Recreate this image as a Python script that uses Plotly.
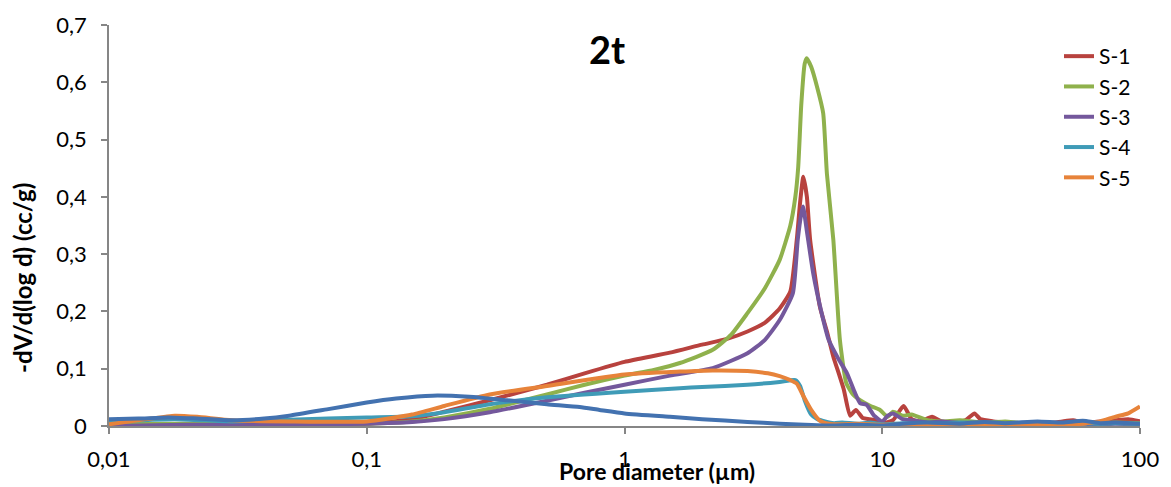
import plotly.graph_objects as go

# ---- data ----
s1_x = [0.01, 0.02, 0.05, 0.1, 0.15, 0.2, 0.3, 0.5, 0.7, 1, 1.5, 2, 2.5, 3, 3.5, 4, 4.4, 4.66, 4.8, 4.94,
        5.1, 5.25, 5.73, 6.1, 6.46, 6.8, 7.1, 7.5, 7.9, 8.4, 8.9, 9.5, 10, 11, 12.1, 13, 14, 15.6, 17, 19,
        21, 22.8, 24, 27, 30, 35, 40, 45, 50, 55, 60, 70, 80, 90, 100]
s1_y = [0.002, 0.003, 0.002, 0.004, 0.012, 0.025, 0.045, 0.072, 0.092, 0.112, 0.128, 0.142, 0.152, 0.165, 0.18,
        0.205, 0.235, 0.325, 0.39, 0.435, 0.40, 0.325, 0.208, 0.165, 0.121, 0.09, 0.063, 0.018, 0.028, 0.014,
        0.012, 0.01, 0.005, 0.01, 0.035, 0.012, 0.008, 0.016, 0.008, 0.006, 0.01, 0.022, 0.012, 0.008, 0.006,
        0.004, 0.006, 0.005, 0.008, 0.01, 0.006, 0.008, 0.01, 0.012, 0.008]

s2_x = [0.01, 0.02, 0.05, 0.1, 0.15, 0.2, 0.3, 0.5, 0.7, 1, 1.3, 1.64, 2.2, 2.6, 3, 3.5, 4, 4.4, 4.6, 4.72,
        4.85, 5.0, 5.09, 5.3, 5.6, 5.9, 6.1, 6.46, 6.85, 7.25, 7.7, 8.2, 9, 9.8, 10.5, 11, 12, 13, 15, 17,
        20, 25, 30, 35, 40, 50, 60, 70, 80, 100]
s2_y = [0.003, 0.004, 0.003, 0.004, 0.008, 0.015, 0.03, 0.055, 0.072, 0.088, 0.098, 0.11, 0.133, 0.16, 0.197,
        0.24, 0.29, 0.35, 0.40, 0.452, 0.56, 0.632, 0.642, 0.627, 0.59, 0.546, 0.44, 0.325, 0.15, 0.075,
        0.055, 0.045, 0.035, 0.028, 0.016, 0.025, 0.018, 0.02, 0.01, 0.008, 0.01, 0.006, 0.008, 0.005,
        0.007, 0.004, 0.006, 0.005, 0.006, 0.005]

s3_x = [0.01, 0.02, 0.05, 0.1, 0.15, 0.2, 0.3, 0.5, 0.7, 1, 1.5, 2.2, 3, 3.5, 4, 4.5, 4.7, 4.85, 4.93, 5.1,
        5.4, 5.8, 6.2, 6.8, 7.3, 7.8, 8.2, 8.7, 9.3, 10, 10.5, 11, 12, 13, 15, 17, 20, 25, 30, 40, 50, 60,
        70, 80, 100]
s3_y = [0.0, 0.002, 0.002, 0.004, 0.007, 0.012, 0.024, 0.044, 0.058, 0.072, 0.088, 0.101, 0.127, 0.15, 0.185,
        0.232, 0.325, 0.37, 0.383, 0.34, 0.266, 0.2, 0.15, 0.115, 0.092, 0.06, 0.04, 0.037, 0.018, 0.008,
        0.018, 0.022, 0.012, 0.01, 0.006, 0.008, 0.005, 0.006, 0.004, 0.005, 0.003, 0.004, 0.003, 0.004, 0.003]

s4_x = [0.01, 0.018, 0.03, 0.05, 0.1, 0.15, 0.2, 0.3, 0.5, 1, 1.64, 2, 3, 4, 4.6, 4.8, 5.0, 5.3, 5.6, 6,
        6.5, 7, 8, 9, 10, 12, 15, 20, 25, 30, 40, 50, 60, 70, 80, 100]
s4_y = [0.008, 0.012, 0.008, 0.011, 0.015, 0.017, 0.024, 0.038, 0.05, 0.06, 0.066, 0.068, 0.072, 0.077, 0.08,
        0.07, 0.045, 0.02, 0.012, 0.008, 0.005, 0.006, 0.004, 0.006, 0.003, 0.005, 0.004, 0.006, 0.005,
        0.004, 0.006, 0.003, 0.005, 0.004, 0.005, 0.004]

s5_x = [0.01, 0.014, 0.018, 0.022, 0.03, 0.05, 0.1, 0.15, 0.2, 0.3, 0.5, 1, 1.64, 2.2, 3, 3.6, 4.0, 4.4,
        4.66, 4.96, 5.3, 5.7, 6.2, 7, 8, 10, 15, 20, 30, 40, 50, 60, 65, 70, 80, 90, 100]
s5_y = [0.003, 0.012, 0.018, 0.016, 0.01, 0.008, 0.008, 0.02, 0.035, 0.055, 0.07, 0.09, 0.095, 0.097, 0.096,
        0.092, 0.087, 0.08, 0.074, 0.051, 0.028, 0.01, 0.004, 0.003, 0.004, 0.002, 0.003, 0.002, 0.003,
        0.002, 0.003, 0.004, 0.006, 0.008, 0.016, 0.022, 0.034]

s6_x = [0.01, 0.013, 0.017, 0.022, 0.03, 0.04, 0.05, 0.07, 0.1, 0.13, 0.18, 0.25, 0.35, 0.5, 0.67, 0.8, 1,
        1.5, 2, 3, 4, 5, 6, 8, 10, 12, 15, 20, 25, 30, 40, 50, 60, 70, 80, 100]
s6_y = [0.012, 0.013, 0.015, 0.013, 0.01, 0.013, 0.018, 0.029, 0.041, 0.048, 0.053, 0.051, 0.045, 0.038,
        0.033, 0.028, 0.022, 0.016, 0.012, 0.007, 0.004, 0.002, 0.001, 0.002, 0.001, 0.004, 0.006, 0.004,
        0.007, 0.005, 0.008, 0.006, 0.009, 0.005, 0.006, 0.004]

names = ["S-1", "S-2", "S-3", "S-4", "S-5", ""]
colors = ["#B8423E", "#8FB14C", "#74589C", "#3F9BB7", "#E7833A", "#4372B0"]
xs = [s1_x, s2_x, s3_x, s4_x, s5_x, s6_x]
ys = [s1_y, s2_y, s3_y, s4_y, s5_y, s6_y]

x_tickvals = [0.01, 0.1, 1, 10, 100]
x_ticktext = ["0,01", "0,1", "1", "10", "100"]
y_tickvals = [0, 0.1, 0.2, 0.3, 0.4, 0.5, 0.6, 0.7]
y_ticktext = ["0", "0,1", "0,2", "0,3", "0,4", "0,5", "0,6", "0,7"]

FONT = "Lato"

# page body has an 8px margin; figure is sized so the plot area lands at x 109..1140, y 25..426
W, H = 1163, 479
L, T = 101, 17
PW, PH = 1031, 401

fig = go.Figure()
for x, y, n, c in zip(xs, ys, names, colors):
    fig.add_trace(go.Scatter(
        x=x, y=y, name=n, mode="lines",
        line=dict(color=c, width=4, shape="spline", smoothing=0.5),
        showlegend=bool(n),
    ))

fig.update_layout(
    width=W, height=H,
    margin=dict(l=L, r=W - L - PW, t=T, b=H - T - PH, autoexpand=False),
    paper_bgcolor="white", plot_bgcolor="white",
    font=dict(family=FONT, size=21, color="black"),
    showlegend=True,
    legend=dict(x=(1059 - 109) / PW, y=1 - (36 - 25) / PH, xanchor="left", yanchor="top",
                font=dict(family=FONT, size=21, color="black"),
                bgcolor="rgba(0,0,0,0)", itemwidth=30),
    title=dict(text="<b>2t</b>", x=(607 - 8) / W, y=1 - (51 - 8) / H, xanchor="center", yanchor="middle",
               font=dict(family=FONT, size=38, color="black")),
)
fig.update_xaxes(
    type="log", range=[-2, 2],
    tickvals=x_tickvals, ticktext=x_ticktext,
    showgrid=False, zeroline=False,
    showline=True, linecolor="#868686", linewidth=1.5,
    ticks="outside", ticklen=6, tickcolor="#868686", tickwidth=1.5,
    ticklabelstandoff=7,
    tickfont=dict(family=FONT, size=22, color="black"),
)
fig.update_yaxes(
    range=[0, 0.7],
    tickvals=y_tickvals, ticktext=y_ticktext,
    showgrid=False, zeroline=False,
    showline=True, linecolor="#868686", linewidth=1.5,
    ticks="outside", ticklen=6, tickcolor="#868686", tickwidth=1.5,
    ticklabelstandoff=10,
    tickfont=dict(family=FONT, size=22, color="black"),
)
fig.add_annotation(text="<b>Pore diameter (µm)</b>", xref="paper", yref="paper",
                   x=(657 - 109) / PW, y=-(471 - 426) / PH, showarrow=False,
                   xanchor="center", yanchor="middle",
                   font=dict(family=FONT, size=23, color="black"))
fig.add_annotation(text="<b>-dV/d(log d) (cc/g)</b>", xref="paper", yref="paper",
                   x=-(109 - 22) / PW, y=(426 - 278) / PH, textangle=-90,
                   showarrow=False, xanchor="center", yanchor="middle",
                   font=dict(family=FONT, size=24, color="black"))

fig.write_html("out.html")
